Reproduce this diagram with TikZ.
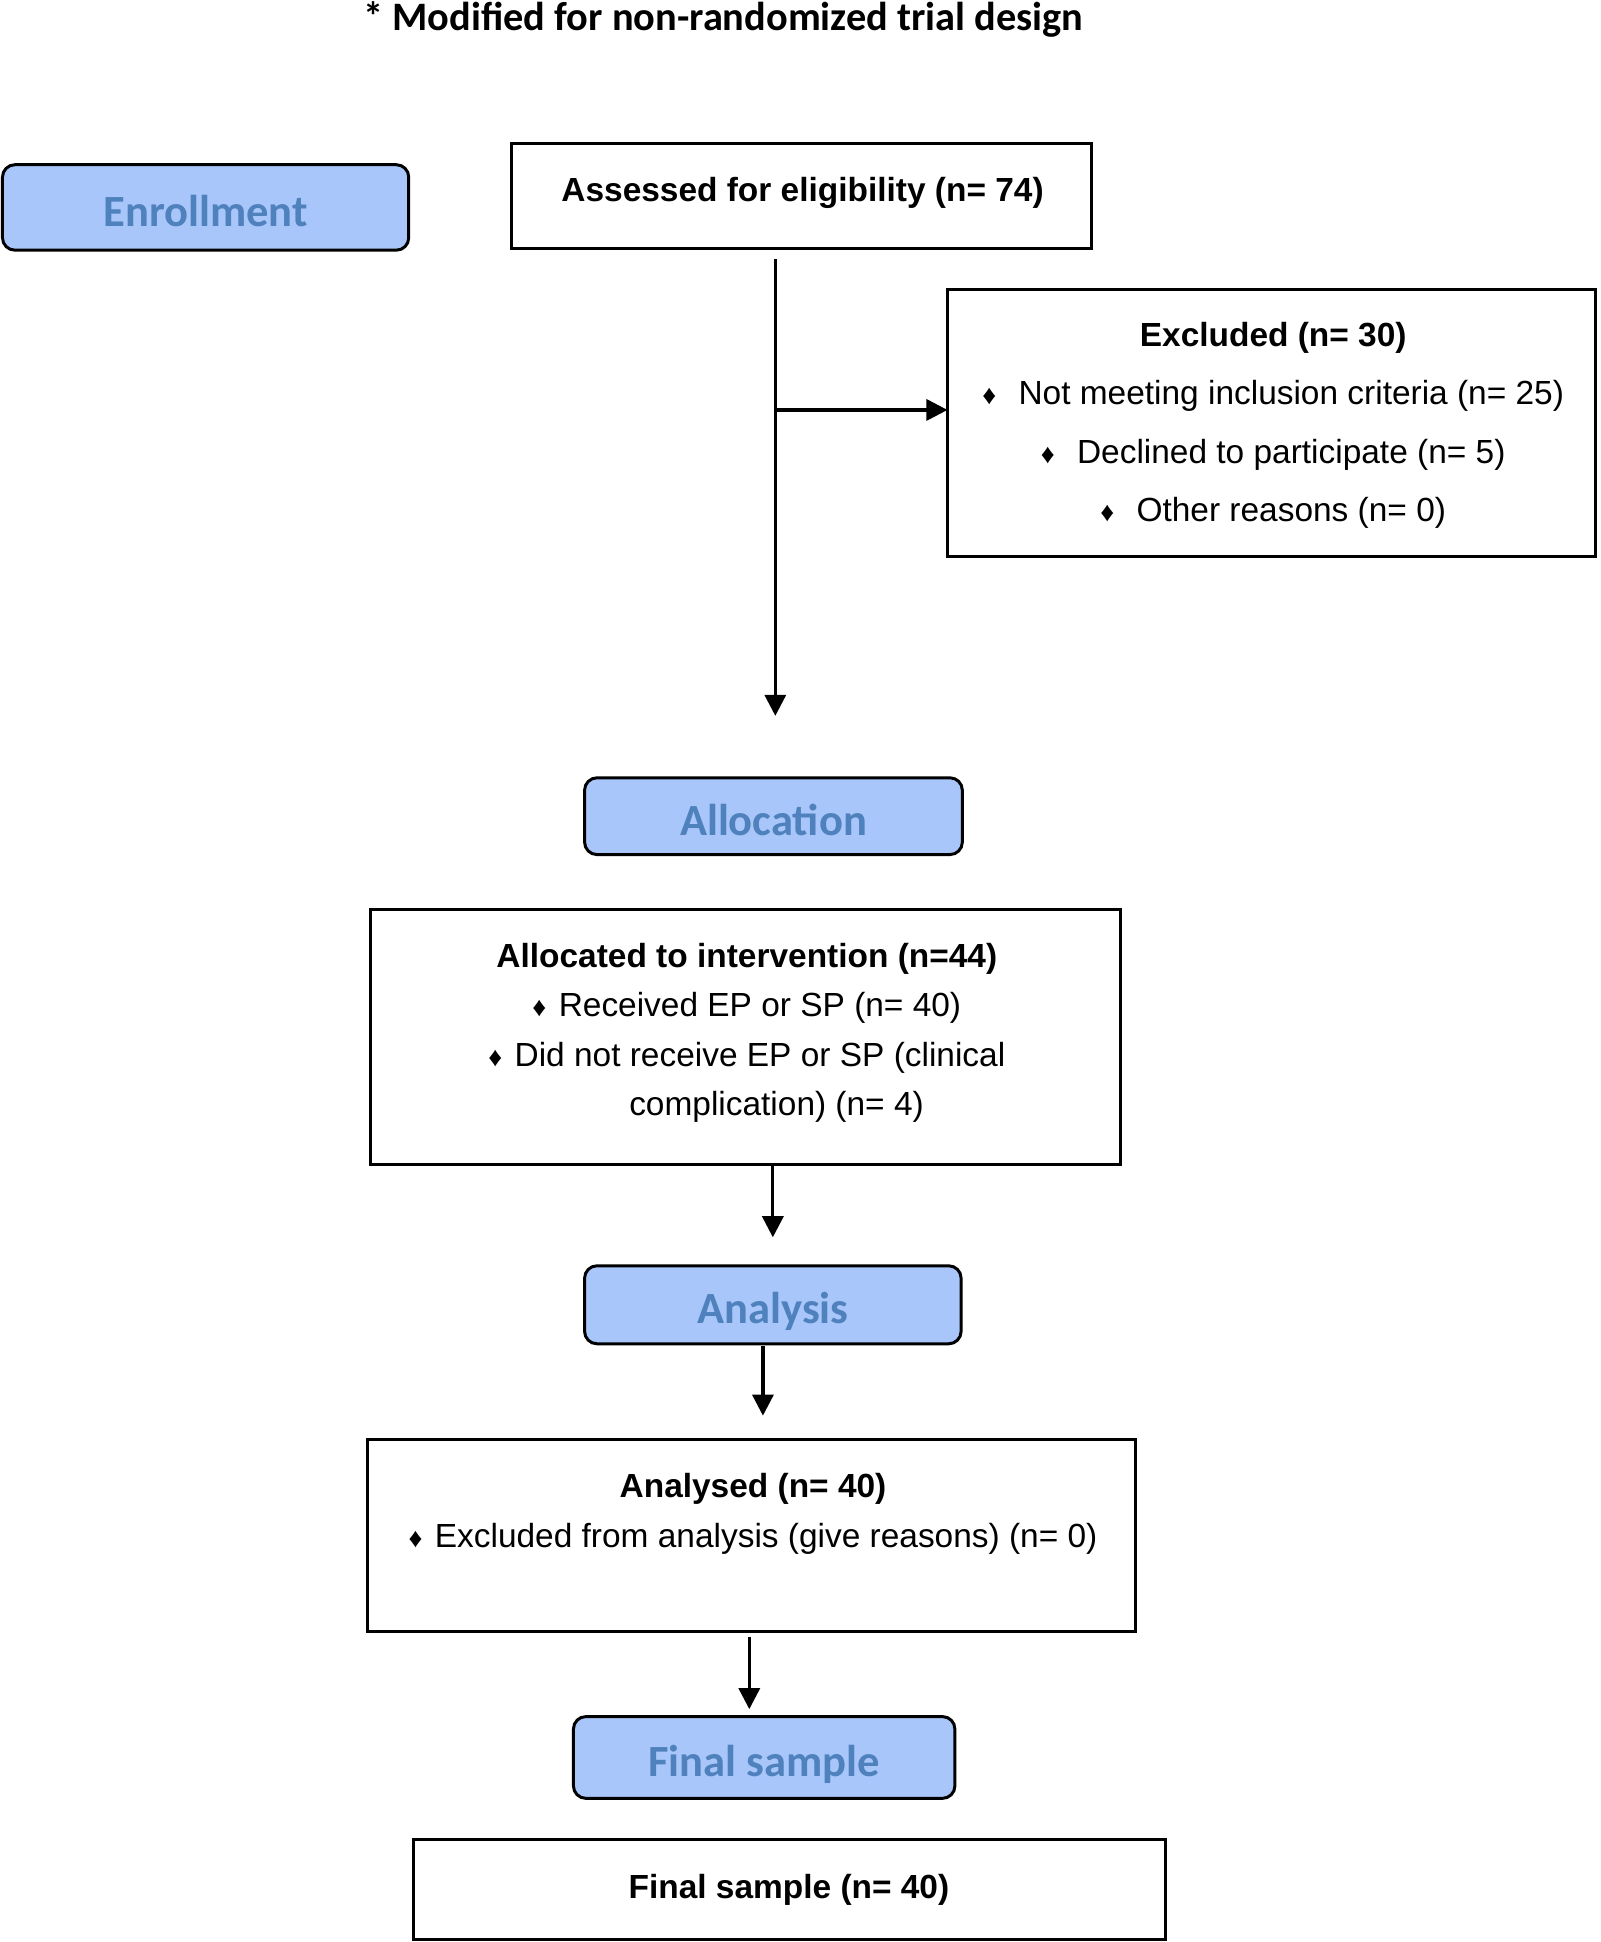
\documentclass[tikz,border=0pt]{standalone}
\usepackage{fontspec}
\setmainfont{Liberation Sans}
\newfontfamily\calib{Carlito}
\usetikzlibrary{arrows.meta,calc}
\definecolor{stagefill}{RGB}{168,198,250}
\definecolor{stagetext}{RGB}{79,129,189}
\newcommand{\bul}{{\fontsize{11}{11}\selectfont ♦}}
\begin{document}
\begin{tikzpicture}[x=0.5pt,y=-0.5pt,
  boxsz/.style 2 args={minimum width=#1*0.5pt, minimum height=#2*0.5pt, inner sep=0pt, outer sep=0pt},
  infobox/.style={draw=black, line width=1.2pt, fill=white},
  stagebox/.style={draw=black, line width=1.2pt, fill=stagefill, rounded corners=5pt,
     text=stagetext, text height=15.2pt, text depth=0pt,
     font=\calib\bfseries\fontsize{18}{22}\selectfont},
  txt/.style={inner sep=0pt, align=center, font=\fontsize{13.5}{23.5}\selectfont},
  txtb/.style={inner sep=0pt, align=center, font=\fontsize{13.5}{20}\selectfont},
  conn/.style={line width=1.3pt, -{Triangle[length=8.5pt,width=8.5pt]}},
  plain/.style={line width=1.3pt}]
\useasboundingbox (0,0) rectangle (1292,1568);

% header
\node[inner sep=0pt, font=\calib\bfseries\fontsize{16.3}{19}\selectfont] (title) at (584,16) {* Modified for non-randomized trial design};

% stage boxes
\node[stagebox, boxsz={328}{69}] (enroll) at (166,167.5) {Enrollment};
\node[stagebox, boxsz={305}{62}] (alloc) at (624.5,659) {Allocation};
\node[stagebox, boxsz={304}{63}] (analysis) at (624,1053.5) {Analysis};
\node[stagebox, boxsz={308}{66}] (finalS) at (617,1419) {Final sample};

% information boxes
\node[infobox, boxsz={468}{85}] (assessed) at (647,158.5) {};
\node[txt] (assessedT) at (648,156) {\bfseries Assessed for eligibility (n= 74)};

\node[infobox, boxsz={523}{215}] (excluded) at (1026.5,341.5) {};
\node[txt] (excludedT) at (1028,343.5) {\bfseries Excluded (n= 30)\\
  \bul\hspace{9pt}Not meeting inclusion criteria (n= 25)\\
  \bul\hspace{9pt}Declined to participate (n= 5)\\
  \bul\hspace{9pt}Other reasons (n= 0)};

\node[infobox, boxsz={606}{206}] (allocated) at (602,837) {};
\node[txtb] (allocatedT) at (603,834) {\bfseries Allocated to intervention (n=44)\\
  \bul\hspace{5pt}Received EP or SP (n= 40)\\
  \bul\hspace{5pt}Did not receive EP or SP (clinical\\
  \hspace*{24pt}complication) (n= 4)};

\node[infobox, boxsz={620}{155}] (analysed) at (607,1239.5) {};
\node[txtb] (analysedT) at (608,1222.5) {\bfseries Analysed (n= 40)\\
  \bul\hspace{5pt}Excluded from analysis (give reasons) (n= 0)};

\node[infobox, boxsz={607}{81}] (finalbox) at (637.5,1525.5) {};
\node[txt] (finalT) at (637,1526) {\bfseries Final sample (n= 40)};

% connectors
\coordinate (s1) at (626,209);
\coordinate (e1) at (626,578);
\coordinate (b1) at (626,331);
\draw[plain] (s1) -- (b1);
\draw[conn] (b1) -- (e1);
\draw[conn] (b1) -- (excluded.west |- b1);

\coordinate (s2) at (624,940);
\coordinate (e2) at (624,999);
\draw[conn] (s2) -- (e2);

\coordinate (s3) at (616,1087);
\coordinate (e3) at (616,1143);
\draw[conn] (s3) -- (e3);

\coordinate (s4) at (605,1322);
\coordinate (e4) at (605,1380);
\draw[conn] (s4) -- (e4);
\end{tikzpicture}
\end{document}
